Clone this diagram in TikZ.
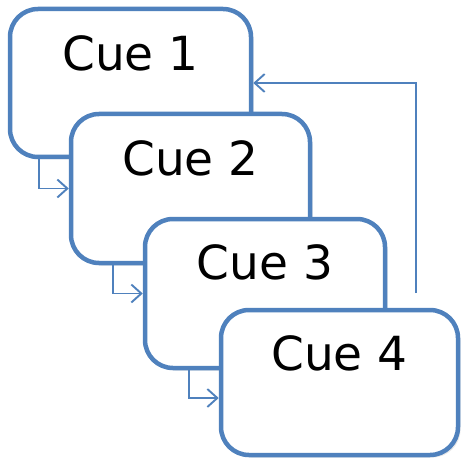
\documentclass[tikz,border=0pt]{standalone}
\usepackage{fontspec}
\setmainfont{DejaVu Sans}
\usetikzlibrary{shadows,arrows.meta}
\definecolor{cueblue}{HTML}{4F81BD}
\begin{document}
\begin{tikzpicture}[x=1pt,y=-1pt,
  cuebox/.style={draw=cueblue, line width=4.5pt, fill=white, rounded corners=28pt,
    inner sep=0pt, drop shadow={opacity=0.18, shadow xshift=2.5pt, shadow yshift=-2.5pt}},
  cuetext/.style={font=\fontsize{47}{50}\selectfont, inner sep=0pt, anchor=base},
  conn/.style={draw=cueblue, line width=1.9pt, -{Straight Barb[length=10pt, width=18pt]}}]
\useasboundingbox (0,0) rectangle (465,465);
\node[cuebox, minimum width=241pt, minimum height=148pt] (b1) at (130.5,83) {};
\node[cuetext] (t1) at ([yshift=-64pt]b1.north) {Cue 1};
\node[cuebox, minimum width=239pt, minimum height=149pt] (b2) at (190.5,188.5) {};
\node[cuetext] (t2) at ([yshift=-64pt]b2.north) {Cue 2};
\coordinate (k1) at ([xshift=-30pt]b2.west);
\draw[conn] (k1 |- b1.south) |- (b2.west);
\node[cuebox, minimum width=240pt, minimum height=149pt] (b3) at (265,293.5) {};
\node[cuetext] (t3) at ([yshift=-63pt]b3.north) {Cue 3};
\coordinate (k2) at ([xshift=-30pt]b3.west);
\draw[conn] (k2 |- b2.south) |- (b3.west);
\node[cuebox, minimum width=237pt, minimum height=145pt] (b4) at (339.5,382.5) {};
\node[cuetext] (t4) at ([yshift=-63pt]b4.north) {Cue 4};
\coordinate (k3) at ([xshift=-30pt]b4.west);
\draw[conn] (k3 |- b3.south) |- ([yshift=-15.5pt]b4.west);
\coordinate (fb) at (416,293);
\draw[conn] (fb) |- (b1.east);
\end{tikzpicture}
\end{document}
